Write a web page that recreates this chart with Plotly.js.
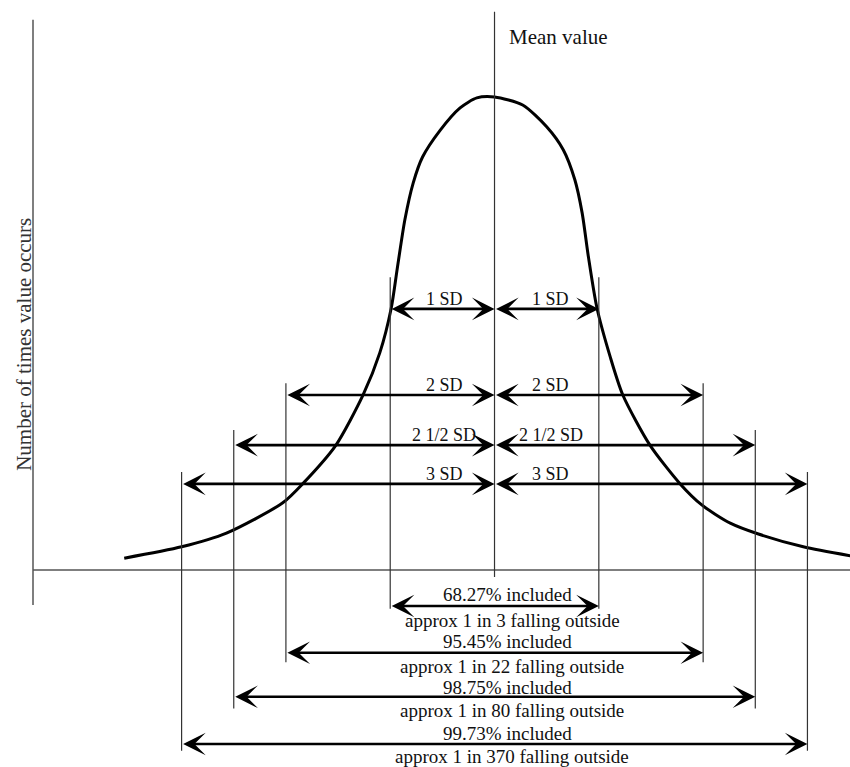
<!DOCTYPE html>
<html>
<head>
<meta charset="utf-8">
<script src="https://cdn.plot.ly/plotly-3.0.1.min.js"></script>
<style>
  html, body { margin: 0; padding: 0; background: #fff; }
  #chart { width: 850px; height: 767px; }
</style>
</head>
<body>
<div id="chart"></div>
<script>
// distance from the mean, in standard deviations
const curveX = [-3.55, -3.0, -2.57, -2.03, -1.84, -1.52, -1.26, -1.10, -0.99, -0.93, -0.86, -0.78, -0.69, -0.52, -0.33, -0.17, 0,
    0.27, 0.50, 0.66, 0.77, 0.84, 0.90, 0.98, 1.11, 1.23, 1.49, 1.78, 1.99, 2.26, 2.53, 2.96, 3.41];
// how often the value occurs, as % of the peak
const curveY = [2.5, 4.9, 7.8, 14.2, 18.2, 26.4, 37.0, 45.9, 55.4, 64.1, 74.0, 81.8, 87.3, 93.0, 97.7, 99.8, 100,
    98.3, 93.7, 88.8, 82.5, 75.5, 66.2, 55.6, 45.0, 37.0, 26.4, 18.2, 13.7, 9.9, 7.6, 4.9, 3.0];

const sdMultiples = [1, 2, 2.5, 3];
const sdLabels = ['1 SD', '2 SD', '2 1/2 SD', '3 SD'];
const includedLabels = ['68.27% included', '95.45% included', '98.75% included', '99.73% included'];
const outsideLabels = ['approx 1 in 3 falling outside', 'approx 1 in 22 falling outside',
    'approx 1 in 80 falling outside', 'approx 1 in 370 falling outside'];

// where each row of the drawing sits (y in plot units)
const topRowY = [55.2, 37.0, 26.4, 18.2];
const bottomRowY = [-7.6, -17.5, -26.8, -36.8];
const guideTop = [61.9, 39.5, 29.6, 20.7];
const guideBottom = [-8.2, -19.5, -29.3, -38.2];
// pixel offsets of the texts above / below the bottom arrows
const includedShift = [11, 11, 9, 11];
const outsideShift = [-15, -14, -14, -12];

const font = 'Liberation Serif, Times New Roman, serif';
const xMin = -4.741, xMax = 3.408;
const yMin = -41.65, yMax = 120.5;

function arrow(x0, x1, y) {
    return {
        x: x1, y: y, ax: x0, ay: y,
        xref: 'x', yref: 'y', axref: 'x', ayref: 'y',
        text: '', showarrow: true,
        arrowside: 'end+start',
        arrowhead: 3, startarrowhead: 3,
        arrowsize: 1.45, startarrowsize: 1.45,
        arrowwidth: 2.6, arrowcolor: '#000'
    };
}

function label(text, x, y, yshift, size) {
    return {
        x: x, y: y, xref: 'x', yref: 'y', text: text, showarrow: false,
        xanchor: 'center', yanchor: 'middle', yshift: yshift,
        font: { family: font, size: size || 18, color: '#111' }
    };
}

function vline(x, y0, y1, color, width) {
    return {
        type: 'line', xref: 'x', yref: 'y', x0: x, x1: x, y0: y0, y1: y1,
        line: { color: color || '#333', width: width || 1.2 }
    };
}

const shapes = [];
const annotations = [];

// axes
const axisX = xMin + 33 / 104.3;
shapes.push(vline(axisX, -7.4, 116.3, '#555', 1.5));
shapes.push({
    type: 'line', xref: 'x', yref: 'y', x0: axisX, x1: xMax, y0: 0, y1: 0,
    line: { color: '#555', width: 1.5 }
});
// mean line
shapes.push(vline(0, -1.5, 118.0, '#333', 1.2));

sdMultiples.forEach((k, i) => {
    shapes.push(vline(-k, guideBottom[i], guideTop[i]));
    shapes.push(vline(k, guideBottom[i], guideTop[i]));

    annotations.push(arrow(-k, 0, topRowY[i]));
    annotations.push(arrow(0, k, topRowY[i]));
    annotations.push(label(sdLabels[i], -0.48, topRowY[i], 10));
    annotations.push(label(sdLabels[i], 0.54, topRowY[i], 10));

    annotations.push(arrow(-k, k, bottomRowY[i]));
    annotations.push(label(includedLabels[i], 0.12, bottomRowY[i], includedShift[i], 19));
    annotations.push(label(outsideLabels[i], 0.17, bottomRowY[i], outsideShift[i], 19));
});

annotations.push({
    x: 0.12, y: 112.7, xref: 'x', yref: 'y', text: 'Mean value', showarrow: false,
    xanchor: 'left', yanchor: 'middle',
    font: { family: font, size: 21, color: '#111' }
});
annotations.push({
    x: xMin + 24 / 104.3, y: 47.6, xref: 'x', yref: 'y', text: 'Number of times value occurs',
    showarrow: false, textangle: -90, xanchor: 'center', yanchor: 'middle',
    font: { family: font, size: 21, color: '#333' }
});

const trace = {
    x: curveX,
    y: curveY,
    mode: 'lines',
    line: { color: '#000', width: 3, shape: 'spline', smoothing: 0.7 },
    hoverinfo: 'skip',
    showlegend: false
};

const layout = {
    width: 850,
    height: 767,
    margin: { l: 0, r: 0, t: 0, b: 0 },
    paper_bgcolor: '#fff',
    plot_bgcolor: '#fff',
    xaxis: { range: [xMin, xMax], visible: false, fixedrange: true },
    yaxis: { range: [yMin, yMax], visible: false, fixedrange: true },
    shapes: shapes,
    annotations: annotations,
    showlegend: false
};

Plotly.newPlot('chart', [trace], layout, { staticPlot: true });
</script>
</body>
</html>
